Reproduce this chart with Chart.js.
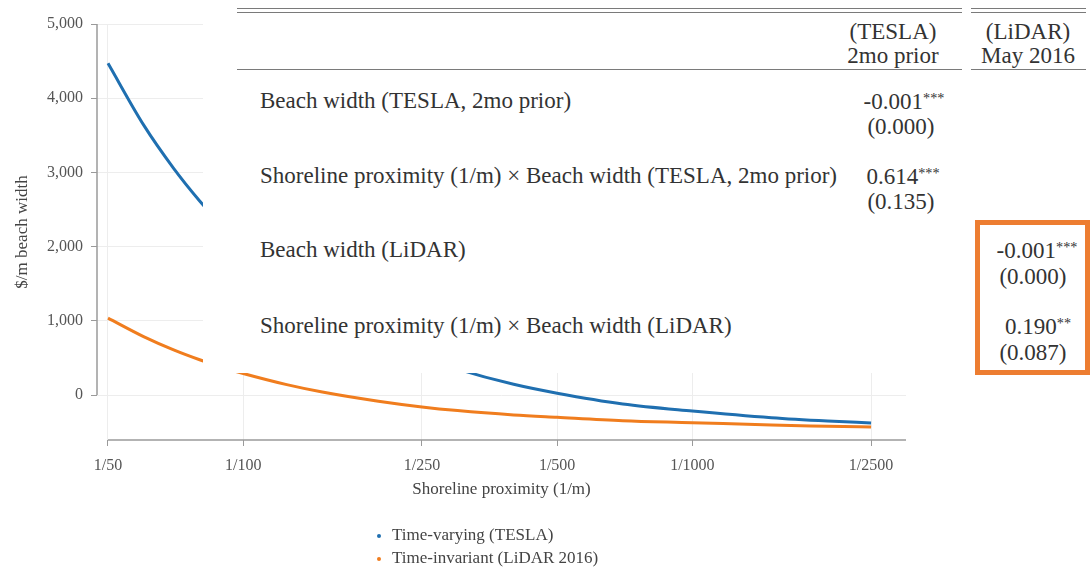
<!DOCTYPE html>
<html><head><meta charset="utf-8">
<script src="https://cdn.jsdelivr.net/npm/chart.js@4/dist/chart.umd.min.js"></script>
<style>
html,body{margin:0;padding:0;background:#fff;}
#wrap{position:relative;width:1091px;height:570px;overflow:hidden;font-family:"Liberation Serif","Times New Roman",serif;}
#c{position:absolute;left:0;top:0;}
#tbl{position:absolute;left:203px;top:0;width:888px;height:373px;background:#fff;}
.t{position:absolute;white-space:nowrap;color:#333;font-size:23px;line-height:1;}
.l{transform:translate(0,-50%);}
.c{transform:translate(-50%,-50%);}
.s{font-size:0.62em;vertical-align:0.42em;}
.rule{position:absolute;height:0;border-top:1.5px solid #7a7a7a;}
#box{position:absolute;left:975px;top:220px;width:105px;height:145px;border:5px solid #ed7d31;}
</style></head>
<body>
<div id="wrap">
<canvas id="c" width="1091" height="570"></canvas>
<div id="tbl"></div>
<div class="rule" style="left:237px;top:8px;width:725px"></div>
<div class="rule" style="left:237px;top:12px;width:725px"></div>
<div class="rule" style="left:971px;top:8px;width:115px"></div>
<div class="rule" style="left:971px;top:12px;width:115px"></div>
<div class="rule" style="left:237px;top:69px;width:725px"></div>
<div class="rule" style="left:971px;top:69px;width:115px"></div>
<div class="t c" style="left:893px;top:31px">(TESLA)</div>
<div class="t c" style="left:893px;top:55px">2mo prior</div>
<div class="t c" style="left:1028px;top:31px">(LiDAR)</div>
<div class="t c" style="left:1028px;top:55px">May 2016</div>
<div class="t l" style="left:260px;top:100px">Beach width (TESLA, 2mo prior)</div>
<div class="t l" style="left:260px;top:175px">Shoreline proximity (1/m) × Beach width (TESLA, 2mo prior)</div>
<div class="t l" style="left:260px;top:249px">Beach width (LiDAR)</div>
<div class="t l" style="left:260px;top:325px">Shoreline proximity (1/m) × Beach width (LiDAR)</div>
<div class="t c" style="left:904px;top:101px">-0.001<span class="s">***</span></div>
<div class="t c" style="left:901px;top:126px">(0.000)</div>
<div class="t c" style="left:903px;top:176px">0.614<span class="s">***</span></div>
<div class="t c" style="left:901px;top:201px">(0.135)</div>
<div class="t c" style="left:1037px;top:250px">-0.001<span class="s">***</span></div>
<div class="t c" style="left:1033px;top:276px">(0.000)</div>
<div class="t c" style="left:1038px;top:326px">0.190<span class="s">**</span></div>
<div class="t c" style="left:1033px;top:352px">(0.087)</div>
<div id="box"></div>
</div>
<script>
// distance from shoreline (m); x axis shows proximity 1/m
const distances = [50, 60, 70, 80, 90, 100, 125, 150, 200, 250, 300, 400, 500, 700, 1000, 1500, 2000, 2500];
const teslaValues = [4470, 3640, 3055, 2615, 2270, 1995, 1500, 1170, 760, 515, 350, 145, 25, -120, -215, -305, -350, -377];
const lidarValues = [1036, 787, 608, 475, 371, 290, 140, 40, -84, -161, -210, -268, -300, -345, -372, -405, -420, -431];
const seriesLabels = ['Time-varying (TESLA)', 'Time-invariant (LiDAR 2016)'];
const xTickValues = [50, 100, 250, 500, 1000, 2500];
const xTickLabels = ['1/50', '1/100', '1/250', '1/500', '1/1000', '1/2500'];
const yTickValues = [0, 1000, 2000, 3000, 4000, 5000];
const yTickLabels = ['0', '1,000', '2,000', '3,000', '4,000', '5,000'];

const SERIF = '"Liberation Serif", "Times New Roman", serif';
const blue = '#1f6fb0';
const orange = '#f07d1e';

const axisLines = {
  id: 'axisLines',
  afterDatasetsDraw(chart) {
    const {ctx, chartArea, scales} = chart;
    const x = scales.x, y = scales.y;
    ctx.save();
    ctx.strokeStyle = '#9a9a9a';
    ctx.lineWidth = 1.5;
    ctx.beginPath();
    ctx.moveTo(chartArea.left, y.getPixelForValue(yTickValues[yTickValues.length - 1]));
    ctx.lineTo(chartArea.left, y.getPixelForValue(yTickValues[0]));
    ctx.stroke();
    ctx.beginPath();
    ctx.moveTo(x.getPixelForValue(xTickValues[0]), chartArea.bottom);
    ctx.lineTo(chartArea.right, chartArea.bottom);
    ctx.stroke();
    // legend
    ctx.font = '17px ' + SERIF;
    ctx.textBaseline = 'middle';
    ctx.textAlign = 'left';
    chart.data.datasets.forEach((ds, i) => {
      const ly = 536 + i * 23;
      ctx.fillStyle = ds.borderColor;
      ctx.beginPath();
      ctx.arc(379, ly, 2, 0, Math.PI * 2);
      ctx.fill();
      ctx.fillStyle = '#444';
      ctx.fillText(ds.label, 392, ly);
    });
    ctx.restore();
  }
};

new Chart(document.getElementById('c'), {
  type: 'line',
  data: {
    datasets: [
      { label: seriesLabels[0], data: distances.map((d, i) => ({x: d, y: teslaValues[i]})),
        borderColor: blue, backgroundColor: blue, borderWidth: 3, pointRadius: 0, cubicInterpolationMode: 'monotone' },
      { label: seriesLabels[1], data: distances.map((d, i) => ({x: d, y: lidarValues[i]})),
        borderColor: orange, backgroundColor: orange, borderWidth: 3, pointRadius: 0, cubicInterpolationMode: 'monotone' }
    ]
  },
  options: {
    responsive: false,
    animation: false,
    events: [],
    layout: { padding: { left: 4, right: 185, top: 24, bottom: 60 } },
    plugins: { legend: { display: false }, tooltip: { enabled: false } },
    scales: {
      x: {
        type: 'logarithmic', min: 47.26, max: 2990,
        afterBuildTicks: s => { s.ticks = xTickValues.map(v => ({value: v})); },
        afterFit: s => { s.height = 70; },
        ticks: { autoSkip: false, maxRotation: 0, padding: 10, color: '#555',
          font: { family: SERIF, size: 16 },
          callback: v => xTickLabels[xTickValues.indexOf(v)] },
        grid: { color: '#ededed', tickColor: '#9a9a9a', tickLength: 6, lineWidth: 1 },
        border: { display: false },
        title: { display: true, text: 'Shoreline proximity (1/m)', color: '#444',
          font: { family: SERIF, size: 17 }, padding: { top: 4, bottom: 10 } }
      },
      y: {
        min: -606, max: 5000,
        afterBuildTicks: s => { s.ticks = yTickValues.map(v => ({value: v})); },
        afterFit: s => { s.width = 93; },
        ticks: { padding: 8, color: '#555', font: { family: SERIF, size: 16 },
          callback: v => yTickLabels[yTickValues.indexOf(v)] },
        grid: { color: '#ededed', tickColor: '#9a9a9a', tickLength: 6, lineWidth: 1 },
        border: { display: false },
        title: { display: true, text: '$/m beach width', color: '#444',
          font: { family: SERIF, size: 17 }, padding: { top: 8, bottom: 4 } }
      }
    }
  },
  plugins: [axisLines]
});
</script>
</body></html>
